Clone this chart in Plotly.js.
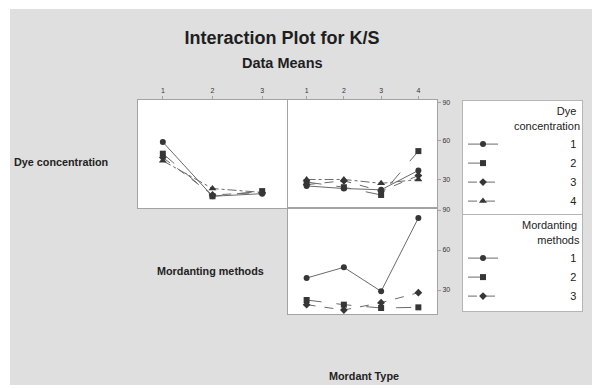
<!DOCTYPE html>
<html><head><meta charset="utf-8">
<script src="https://cdn.plot.ly/plotly-3.0.1.min.js"></script>
<style>html,body{margin:0;padding:0;background:#fff}</style></head>
<body><div id="chart" style="width:599px;height:389px"></div>
<script>
// ---- data ----
const mordantingMethods = [1, 2, 3];
const mordantTypes = [1, 2, 3, 4];
const dyeLevels = ['1', '2', '3', '4'];
const methodLevels = ['1', '2', '3'];
// K/S means: dye concentration x mordanting method
const dye1ByMethod = [59, 17, 19];
const dye2ByMethod = [50, 17, 21];
const dye3ByMethod = [47, 18, 20];
const dye4ByMethod = [44.5, 23, 20];
// K/S means: dye concentration x mordant type
const dye1ByType = [25, 23, 22, 37];
const dye2ByType = [28, 24, 18, 52];
const dye3ByType = [26, 29, 21, 33];
const dye4ByType = [30, 30, 27, 30];
// K/S means: mordanting method x mordant type
const method1ByType = [39, 47, 29, 84];
const method2ByType = [22.5, 19, 16.5, 17];
const method3ByType = [19, 15, 20.5, 28];

const W = 599, H = 389;
const px = x => x / W, py = y => 1 - y / H;

const symbols = ['circle', 'square', 'diamond', 'triangle-up'];
const dashes = ['solid', 'longdash', 'dash', 'dashdot'];
const lineCol = '#6a6a6a', markCol = '#363636';
const nb = n => '\u00a0'.repeat(n);
const pad = nb(22);

const dyeByMethod = [dye1ByMethod, dye2ByMethod, dye3ByMethod, dye4ByMethod];
const dyeByType = [dye1ByType, dye2ByType, dye3ByType, dye4ByType];
const methodByType = [method1ByType, method2ByType, method3ByType];

const traces = [];
dyeLevels.forEach((lv, i) => {
  const style = () => ({
    mode: 'lines+markers',
    line: {color: lineCol, width: 1, dash: dashes[i]},
    marker: {symbol: symbols[i], size: i === 3 ? 7 : 6, color: markCol}
  });
  traces.push(Object.assign({x: mordantingMethods, y: dyeByMethod[i], xaxis: 'x', yaxis: 'y',
    name: pad + lv, legend: 'legend', showlegend: true}, style()));
  traces.push(Object.assign({x: mordantTypes, y: dyeByType[i], xaxis: 'x2', yaxis: 'y2',
    name: pad + lv, showlegend: false}, style()));
});
methodLevels.forEach((lv, i) => {
  traces.push({x: mordantTypes, y: methodByType[i], xaxis: 'x3', yaxis: 'y3',
    mode: 'lines+markers', name: pad + lv, legend: 'legend2', showlegend: true,
    line: {color: lineCol, width: 1, dash: dashes[i]},
    marker: {symbol: symbols[i], size: 6, color: markCol}});
});

const tickFont = {family: 'Arial', size: 7, color: '#333'};
const axBase = {showline: true, mirror: true, linecolor: '#a3a3a3', linewidth: 1,
  showgrid: false, zeroline: false, tickfont: tickFont, tickcolor: '#a3a3a3', ticklen: 3, fixedrange: true};

const labelFont = {family: 'Arial', size: 10.8, color: '#222', weight: 'bold'};

const layout = {
  width: W, height: H, autosize: false,
  margin: {l: 0, r: 0, t: 0, b: 0},
  paper_bgcolor: '#dfdfdf', plot_bgcolor: '#ffffff',
  font: {family: 'Arial', color: '#222'},
  title: {text: 'Interaction Plot for K/S', font: {family: 'Arial', size: 18, color: '#1e1e1e', weight: 'bold'},
    x: px(282), xanchor: 'center', y: py(38), yanchor: 'middle', xref: 'paper', yref: 'paper'},
  xaxis: Object.assign({}, axBase, {domain: [px(138), px(287)], range: [0.5, 3.5], side: 'top', anchor: 'y',
    tickvals: mordantingMethods, ticks: 'outside'}),
  yaxis: Object.assign({}, axBase, {domain: [py(208), py(100)], range: [7.9, 91.6], anchor: 'x',
    showticklabels: false, ticks: ''}),
  xaxis2: Object.assign({}, axBase, {domain: [px(288), px(437)], range: [0.5, 4.5], side: 'top', anchor: 'y2',
    tickvals: mordantTypes, ticks: 'outside'}),
  yaxis2: Object.assign({}, axBase, {domain: [py(208), py(100)], range: [7.9, 91.6], anchor: 'x2',
    side: 'right', tickvals: [30, 60, 90], ticks: 'outside'}),
  xaxis3: Object.assign({}, axBase, {domain: [px(288), px(437)], range: [0.5, 4.5], anchor: 'y3',
    showticklabels: false, ticks: ''}),
  yaxis3: Object.assign({}, axBase, {domain: [py(314), py(208)], range: [12, 91.5], anchor: 'x3',
    side: 'right', tickvals: [30, 60, 90], ticks: 'outside'}),
  legend: {x: px(462), xanchor: 'left', y: py(100), yanchor: 'top', bgcolor: '#fff',
    bordercolor: '#b5b5b5', borderwidth: 1, font: {family: 'Arial', size: 11, color: '#222'},
    title: {text: nb(14) + 'Dye<br>concentration', side: 'top right', font: {family: 'Arial', size: 11, color: '#222'}}},
  legend2: {x: px(462), xanchor: 'left', y: py(214), yanchor: 'top', bgcolor: '#fff',
    bordercolor: '#b5b5b5', borderwidth: 1, font: {family: 'Arial', size: 11, color: '#222'},
    title: {text: 'Mordanting<br>' + nb(5) + 'methods', side: 'top right', font: {family: 'Arial', size: 11, color: '#222'}}},
  shapes: [
    {type: 'rect', xref: 'paper', yref: 'paper', x0: 0, x1: 1, y0: py(9), y1: 1, fillcolor: '#fff', line: {width: 0}, layer: 'below'},
    {type: 'rect', xref: 'paper', yref: 'paper', x0: 0, x1: px(10), y0: 0, y1: 1, fillcolor: '#fff', line: {width: 0}, layer: 'below'},
    {type: 'rect', xref: 'paper', yref: 'paper', x0: px(592), x1: 1, y0: 0, y1: 1, fillcolor: '#fff', line: {width: 0}, layer: 'below'},
    {type: 'rect', xref: 'paper', yref: 'paper', x0: 0, x1: 1, y0: 0, y1: py(385), fillcolor: '#fff', line: {width: 0}, layer: 'below'}
  ],
  annotations: [
    {text: 'Data Means', x: px(282), y: py(63), xref: 'paper', yref: 'paper', showarrow: false,
      xanchor: 'center', yanchor: 'middle', font: {family: 'Arial', size: 14.5, color: '#1e1e1e', weight: 'bold'}},
    {text: 'Dye concentration', x: px(61), y: py(162), xref: 'paper', yref: 'paper', showarrow: false,
      xanchor: 'center', yanchor: 'middle', font: labelFont},
    {text: 'Mordanting methods', x: px(210), y: py(271), xref: 'paper', yref: 'paper', showarrow: false,
      xanchor: 'center', yanchor: 'middle', font: labelFont},
    {text: 'Mordant Type', x: px(364), y: py(376), xref: 'paper', yref: 'paper', showarrow: false,
      xanchor: 'center', yanchor: 'middle', font: labelFont}
  ]
};

Plotly.newPlot('chart', traces, layout, {displayModeBar: false, staticPlot: true});
</script>
</body></html>
